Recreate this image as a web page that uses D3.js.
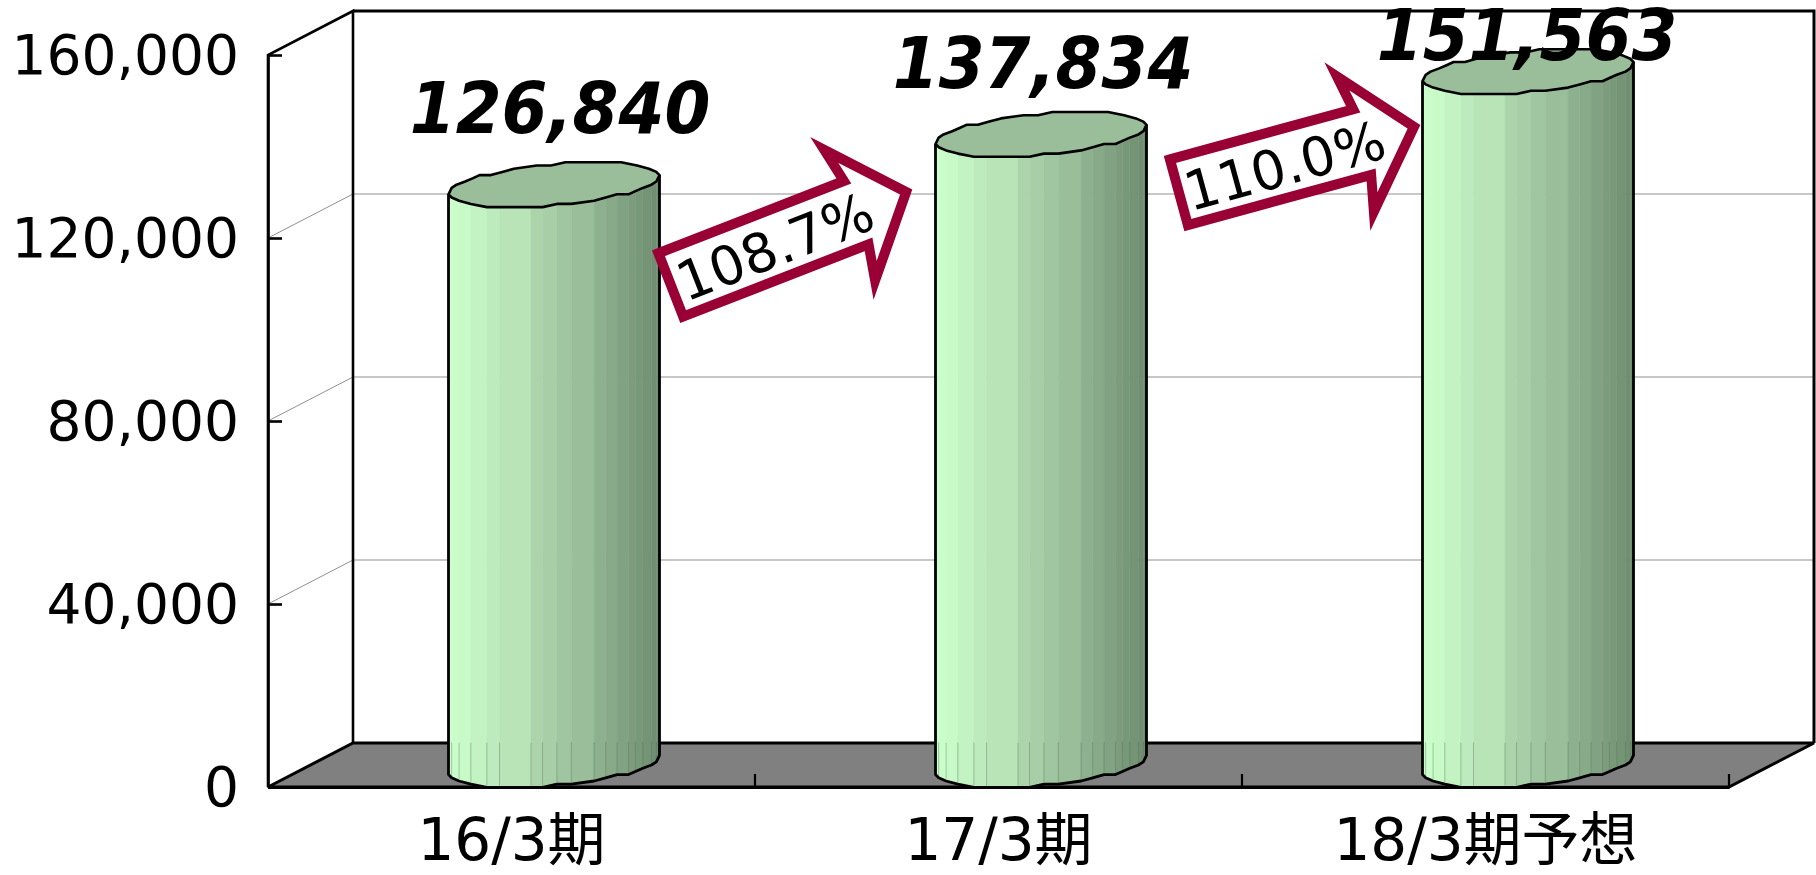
<!DOCTYPE html>
<html><head><meta charset="utf-8">
<script src="https://cdn.jsdelivr.net/npm/d3@7"></script>
<style>
html,body{margin:0;padding:0;background:#fff;overflow:hidden}
svg{display:block}
text{font-family:"DejaVu Sans","Noto Sans CJK JP",sans-serif;fill:#000}
</style></head><body>
<script>
// --- data ---
const categories = ["16/3期", "17/3期", "18/3期予想"];
const sales = [126840, 137834, 151563];
const growthLabels = ["108.7%", "110.0%"];
const yTicks = [0, 40000, 80000, 120000, 160000];

// --- layout ---
const W = 1816, H = 875;
const frontL = 268, frontR = 1729, floorY = 787, topY = 55;
const depthX = 85, depthY = 44;
const valueLabelPos = [{x:560,y:133},{x:1043,y:88},{x:1527,y:60}];
const arrowPos = [{x:668,y:286,a:-21.3,len:268,txt:[114,3]},{x:1176,y:193,a:-15.3,len:259,txt:[112,3]}];
const facetStops = [0,.015,.05,.106,.182,.242,.391,.446,.514,.582,.69,.745,.799,.853,.886,.921,.962,.985,1];
const cylHalfW = 105.5;

const svg = d3.select("body").append("svg").attr("width",W).attr("height",H).attr("viewBox",`0 0 ${W} ${H}`);
const y = d3.scaleLinear().domain([0,160000]).range([floorY,topY]);
const x = d3.scaleBand().domain(categories).range([frontL,frontR]);
const line = d3.line();

// walls
const backL = frontL+depthX, backR = frontR+depthX, backTop = y(160000)-depthY, backBot = floorY-depthY;
svg.append("rect").attr("x",backL).attr("y",backTop).attr("width",backR-backL).attr("height",backBot-backTop).attr("fill","#fff");

// gridlines
yTicks.filter(d=>d>0&&d<160000).forEach(d=>{
  svg.append("path").attr("fill","none").attr("stroke","#909090").attr("stroke-width",1)
    .attr("d",line([[frontL,y(d)],[backL,y(d)-depthY],[backR,y(d)-depthY]]));
});

// floor
svg.append("path").attr("fill","#808080").attr("stroke","#000").attr("stroke-width",3).attr("stroke-linejoin","miter")
  .attr("d",line([[frontL,floorY],[backL,backBot],[backR,backBot],[frontR,floorY]])+"Z");

// wall frame
svg.append("path").attr("fill","none").attr("stroke","#000").attr("stroke-width",2.6)
  .attr("d",line([[frontL,floorY],[frontL,topY],[backL,backTop],[backL,backBot]]));
svg.append("path").attr("fill","none").attr("stroke","#000").attr("stroke-width",3)
  .attr("d",line([[backL,backTop],[backR,backTop],[backR,backBot]]));

// axes
const axisStyle = g=>{g.select(".domain").attr("stroke","#000").attr("stroke-width",2.6);
  g.selectAll(".tick line").attr("stroke","#000").attr("stroke-width",2.6);};
const yAxis = svg.append("g").attr("transform",`translate(${frontL},0)`)
  .call(d3.axisLeft(y).tickValues(yTicks).tickFormat(d3.format(",")).tickSize(-14).tickSizeOuter(0).tickPadding(29));
yAxis.call(axisStyle);
yAxis.selectAll("text").attr("font-size",55).attr("dy",".345em").style("font-family",'"DejaVu Sans"');

const edges = [1,2,3].map(i=>frontL+x.step()*i);
svg.append("g").selectAll("line").data(edges).join("line")
  .attr("x1",d=>d).attr("x2",d=>d).attr("y1",floorY-13).attr("y2",floorY).attr("stroke","#000").attr("stroke-width",2.2);
const xAxis = svg.append("g").attr("transform",`translate(0,${floorY})`)
  .call(d3.axisBottom(x).tickSize(0).tickPadding(0));
xAxis.select(".domain").attr("stroke","#000").attr("stroke-width",3.2);
xAxis.selectAll("text").attr("font-size",58).attr("dy",0).attr("y",73);

// cylinders
const quant = 3.2;
const colorAt = d3.scaleLinear().domain([0,.5,1]).range(["#ccffcc","#a2c8a2","#6c8a6e"]);
const ringPoint = (cx,cy,f,front)=>{
  // oblique projection of the circular section onto the chart's depth axis
  const phi = Math.atan2(depthX/2, Math.sqrt(cylHalfW*cylHalfW-depthX*depthX/4));
  const tau = 2*Math.PI-Math.acos(2*f-1);
  const t = tau+phi;
  const dy = -depthY/2*Math.sin(t);
  const px = cx+cylHalfW*(2*f-1);
  const py = cy+Math.round(dy/quant)*quant;
  return front ? [px,py] : [2*cx-px,2*cy-py];
};
categories.forEach((c,i)=>{
  const cx = x(c)+x.bandwidth()/2+depthX/2;
  const cyTop = y(sales[i])-depthY/2, cyBot = floorY-depthY/2;
  const g = svg.append("g");
  const front = facetStops;
  front.slice(0,-1).forEach((f,k)=>{
    const f2 = front[k+1];
    const col = colorAt(f);
    g.append("path").attr("fill",col).attr("stroke",col).attr("stroke-width",.5)
      .attr("d",line([ringPoint(cx,cyTop,f,true),ringPoint(cx,cyTop,f2,true),ringPoint(cx,cyBot,f2,true),ringPoint(cx,cyBot,f,true)])+"Z");
    if(k>0){
      const p = ringPoint(cx,cyBot,f,true);
      g.append("line").attr("x1",p[0]).attr("x2",p[0]).attr("y1",floorY-depthY).attr("y2",p[1]-2)
        .attr("stroke","#5d7a5f").attr("stroke-width",.7).attr("opacity",.55);
    }
  });
  const botEdge = front.map(f=>ringPoint(cx,cyBot,f,true));
  const topEdge = front.map(f=>ringPoint(cx,cyTop,f,true));
  g.append("path").attr("fill","none").attr("stroke","#000").attr("stroke-width",2.8).attr("stroke-linejoin","round")
    .attr("d",line([topEdge[0],...botEdge,topEdge[topEdge.length-1]]));
  const backEdge = front.map(f=>ringPoint(cx,cyTop,f,false));
  g.append("path").attr("fill","#9abe9a").attr("stroke","#000").attr("stroke-width",2.6).attr("stroke-linejoin","round")
    .attr("d",line([...topEdge,...backEdge.slice(1,-1)])+"Z");
});

// growth arrows
arrowPos.forEach((p,i)=>{
  const g = svg.append("g").attr("transform",`translate(${p.x},${p.y}) rotate(${p.a})`);
  const L = p.len, shaft = L-64, back = L-73;
  g.append("path").attr("fill","#fff").attr("stroke","#990033").attr("stroke-width",10).attr("stroke-linejoin","miter").attr("stroke-miterlimit",10)
    .attr("d",line([[3,-34],[shaft-2,-34],[back,-70],[L-12,-1],[back,70],[shaft-2,34],[3,34]])+"Z");
  g.append("text").text(growthLabels[i]).attr("x",p.txt[0]).attr("y",p.txt[1]).attr("text-anchor","middle")
    .attr("dominant-baseline","central").attr("font-size",54);
});

// value labels
svg.append("g").selectAll("text").data(sales).join("text")
  .attr("transform",(d,i)=>`translate(${valueLabelPos[i].x},${valueLabelPos[i].y}) scale(1,1.08)`)
  .attr("text-anchor","middle").attr("font-size",66).attr("font-weight","bold").attr("font-style","italic")
  .text(d3.format(","));
</script>
</body></html>
